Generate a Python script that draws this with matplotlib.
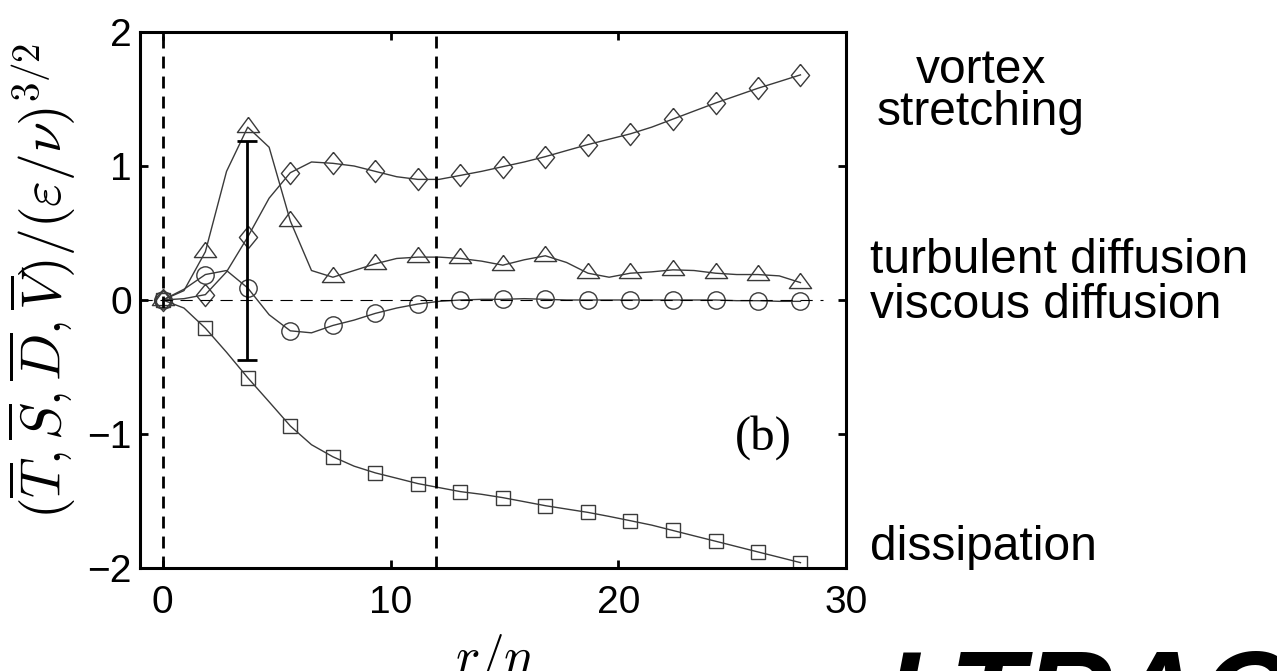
import numpy as np
import matplotlib
matplotlib.use("Agg")
import matplotlib.pyplot as plt

plt.rcParams['mathtext.fontset'] = 'cm'
plt.rcParams['font.family'] = ['Liberation Sans', 'DejaVu Sans']

# r/eta, sampled at half the marker spacing
r = [0, 0.93, 1.87, 2.8, 3.73, 4.67, 5.6, 6.53, 7.47, 8.4, 9.33, 10.27, 11.2,
     12.13, 13.07, 14.0, 14.93, 15.87, 16.8, 17.73, 18.67, 19.6, 20.53, 21.47,
     22.4, 23.33, 24.27, 25.2, 26.13, 27.07, 28.0]

stretching = [0, 0.01, 0.04, 0.21, 0.47, 0.76, 0.95, 1.03, 1.02, 1.00, 0.96,
              0.92, 0.90, 0.90, 0.93, 0.96, 0.995, 1.03, 1.07, 1.115, 1.16,
              1.20, 1.24, 1.29, 1.35, 1.41, 1.47, 1.525, 1.58, 1.63, 1.68]
turbulent = [0, 0.07, 0.36, 0.96, 1.29, 1.14, 0.59, 0.22, 0.17, 0.22, 0.27,
             0.31, 0.32, 0.32, 0.31, 0.29, 0.26, 0.30, 0.33, 0.28, 0.20, 0.17,
             0.20, 0.21, 0.225, 0.22, 0.20, 0.19, 0.19, 0.18, 0.13]
viscous = [0, 0.08, 0.19, 0.22, 0.09, -0.11, -0.23, -0.245, -0.19, -0.15, -0.10,
           -0.06, -0.03, -0.01, 0.0, 0.005, 0.005, 0.01, 0.005, 0.0, 0.0, 0.0,
           0.0, 0.0, 0.0, 0.0, 0.0, -0.005, -0.005, -0.01, -0.01]
dissipation = [0, -0.06, -0.21, -0.39, -0.58, -0.76, -0.94, -1.08, -1.17, -1.24,
               -1.29, -1.33, -1.37, -1.40, -1.43, -1.45, -1.475, -1.505, -1.535,
               -1.56, -1.585, -1.615, -1.647, -1.68, -1.72, -1.76, -1.80, -1.84,
               -1.88, -1.92, -1.96]

# error bar on the peak
err_x = [3.7]
err_lo = -0.45
err_hi = 1.19

tri = [(0, 10), (-11, -5), (11, -5), (0, 10)]
dia = [(0, 11), (9, 0), (0, -11), (-9, 0), (0, 11)]

W, H = 1277, 671
fig = plt.figure(figsize=(W / 100, H / 100), dpi=100)
ax = fig.add_axes([140 / W, 1 - 568 / H, (846 - 140) / W, (568 - 32) / H])

lc = '#3a3a3a'
kw = dict(color=lc, lw=1.0, mfc='none', mec=lc, mew=1.0, markevery=2)
ax.plot(r, stretching, marker=dia, ms=16, **kw)
ax.plot(r, turbulent, marker=tri, ms=16, **kw)
ax.plot(r, viscous, marker='o', ms=12.5, **kw)
ax.plot(r, dissipation, marker='s', ms=10, **kw)

ax.plot([-1, 29], [0, 0], color='k', lw=0.8, ls=(0, (11, 7)))
ax.axvline(0, color='k', lw=2.0, ls=(0, (4.3, 2.9)))
ax.axvline(12, color='k', lw=2.0, ls=(0, (4.3, 2.9)))

ax.errorbar(err_x, [(err_lo + err_hi) / 2], yerr=[(err_hi - err_lo) / 2],
            fmt='none', ecolor='k', elinewidth=2.0, capsize=7, capthick=2.0)

ax.set_xlim(-1, 30)
ax.set_ylim(-2, 2)
ax.set_xticks([0, 10, 20, 30])
ax.set_yticks([-2, -1, 0, 1, 2])
ax.set_yticklabels(['\u22122', '\u22121', '0', '1', '2'])
ax.tick_params(direction='in', top=True, right=True, length=6, width=2,
               labelsize=28)
ax.tick_params(axis='x', pad=12)
ax.tick_params(axis='y', pad=6)
for s in ax.spines.values():
    s.set_linewidth(2.2)

ax.set_xlabel(r'$r/\eta$', fontsize=37)
ax.xaxis.set_label_coords(0.5, -0.12)
ax.set_ylabel(r'$(\overline{T},\overline{S},\overline{D},\overline{V})/(\varepsilon/\nu)^{3/2}$',
              fontsize=40)
ax.yaxis.set_label_coords(-0.088, 0.535)

ax.text(735 / W, 1 - 450 / H, '(b)', transform=fig.transFigure,
        family='Liberation Serif', fontsize=35)

fs = 34.5
fig.text(981 / W, 1 - 83 / H, 'vortex', ha='center', fontsize=fs)
fig.text(981 / W, 1 - 125 / H, 'stretching', ha='center', fontsize=fs)
fig.text(870 / W, 1 - 273 / H, 'turbulent diffusion', fontsize=fs)
fig.text(870 / W, 1 - 318 / H, 'viscous diffusion', fontsize=fs)
fig.text(870 / W, 1 - 560 / H, 'dissipation', fontsize=fs)

# logo, cut off by the bottom edge
fig.text(885 / W, 1 - 737 / H, 'LTRAC', fontsize=88, weight='bold',
         style='italic')

fig.savefig('out.png', dpi=100)
